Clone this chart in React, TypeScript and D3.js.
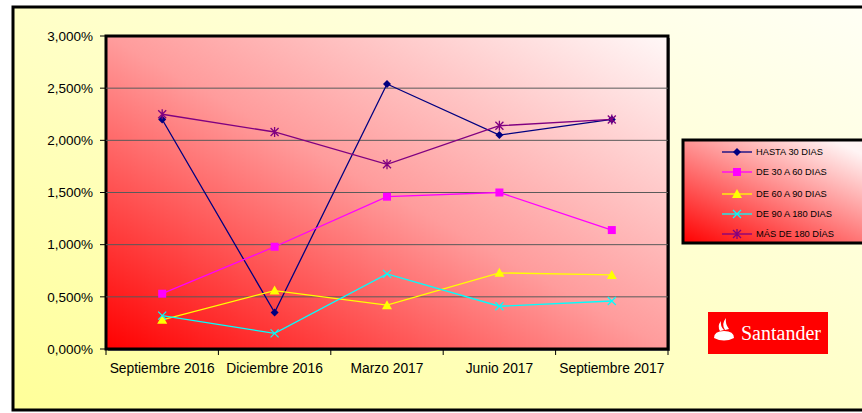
import React from "react";
import { scaleBand, scaleLinear, line } from "d3";

const categories = ["Septiembre 2016", "Diciembre 2016", "Marzo 2017", "Junio 2017", "Septiembre 2017"];
const hasta30 = [2.2, 0.35, 2.54, 2.05, 2.2];
const de30a60 = [0.53, 0.98, 1.46, 1.5, 1.14];
const de60a90 = [0.28, 0.56, 0.42, 0.73, 0.71];
const de90a180 = [0.32, 0.15, 0.72, 0.41, 0.46];
const mas180 = [2.25, 2.08, 1.77, 2.14, 2.2];
const yTicks = [0, 0.5, 1, 1.5, 2, 2.5, 3];

const seriesList = [
  { name: "HASTA 30 DIAS", values: hasta30, color: "#000080", marker: "diamond" },
  { name: "DE 30 A 60 DIAS", values: de30a60, color: "#FF00FF", marker: "square" },
  { name: "DE 60 A 90 DIAS", values: de60a90, color: "#FFFF00", marker: "triangle" },
  { name: "DE 90 A 180 DIAS", values: de90a180, color: "#00FFFF", marker: "x" },
  { name: "MÁS DE 180 DÍAS", values: mas180, color: "#800080", marker: "star" },
];

const font = "Arial, 'Liberation Sans', sans-serif";

// plot box
const plot = { left: 106, top: 36, right: 668, bottom: 349 };

const Marker = ({ type, x, y, color }: { type: string; x: number; y: number; color: string }) => {
  if (type === "diamond")
    return <path d={`M${x},${y - 4}L${x + 4},${y}L${x},${y + 4}L${x - 4},${y}Z`} fill={color} />;
  if (type === "square")
    return <rect x={x - 4} y={y - 4} width={8} height={8} fill={color} />;
  if (type === "triangle")
    return <path d={`M${x},${y - 5}L${x + 5},${y + 4}L${x - 5},${y + 4}Z`} fill={color} />;
  if (type === "x")
    return <path d={`M${x - 4},${y - 4}L${x + 4},${y + 4}M${x + 4},${y - 4}L${x - 4},${y + 4}`} stroke={color} strokeWidth={1.2} />;
  return (
    <path
      d={`M${x - 4},${y - 4}L${x + 4},${y + 4}M${x + 4},${y - 4}L${x - 4},${y + 4}M${x},${y - 5}L${x},${y + 5}`}
      stroke={color}
      strokeWidth={1.3}
    />
  );
};

export default function App() {
  const x = scaleBand().domain(categories).range([plot.left, plot.right]);
  const y = scaleLinear().domain([0, 3]).range([plot.bottom, plot.top]);
  const cx = (c: string) => (x(c) as number) + x.bandwidth() / 2;

  const lineGen = line<number>()
    .x((_, i) => cx(categories[i]))
    .y((d) => y(d));

  const legendRows = [152, 172, 194, 214, 234];

  return (
    <svg width={862} height={413} style={{ position: "absolute", left: 0, top: 0 }} fontFamily={font}>
      <defs>
        <linearGradient id="bgYellow" x1="0" y1="1" x2="1" y2="0">
          <stop offset="0" stopColor="#FFFF99" />
          <stop offset="1" stopColor="#FFFFF6" />
        </linearGradient>
        <linearGradient id="plotRed" x1="0" y1="1" x2="1" y2="0">
          <stop offset="0" stopColor="#FF0000" />
          <stop offset="0.5" stopColor="#FF9C9C" />
          <stop offset="1" stopColor="#FFF8F8" />
        </linearGradient>
        <linearGradient id="legRed" x1="0" y1="1" x2="0.8" y2="0">
          <stop offset="0" stopColor="#FF0000" />
          <stop offset="1" stopColor="#FFF4F4" />
        </linearGradient>
      </defs>

      {/* outer chart area */}
      <rect x={13} y={7} width={860} height={403} fill="url(#bgYellow)" stroke="#000" strokeWidth={3} />

      {/* plot area */}
      <rect x={plot.left + 2} y={plot.top + 2} width={plot.right - plot.left} height={plot.bottom - plot.top} fill="#777" />
      <rect x={plot.left} y={plot.top} width={plot.right - plot.left} height={plot.bottom - plot.top} fill="url(#plotRed)" stroke="#000" strokeWidth={3} />

      {/* gridlines */}
      {yTicks.slice(1, -1).map((t) => (
        <line key={t} x1={plot.left} x2={plot.right} y1={y(t)} y2={y(t)} stroke="#5a5a5a" strokeWidth={1} />
      ))}

      {/* y axis */}
      {yTicks.map((t) => (
        <g key={t}>
          <line x1={plot.left - 6} x2={plot.left} y1={y(t)} y2={y(t)} stroke="#000" />
          <text x={93} y={y(t)} dy="0.35em" textAnchor="end" fontSize={13.5} fill="#000">
            {t.toFixed(3).replace(".", ",")}%
          </text>
        </g>
      ))}

      {/* x axis */}
      {categories.map((c) => (
        <g key={c}>
          <line x1={x(c) as number} x2={x(c) as number} y1={plot.bottom} y2={plot.bottom + 6} stroke="#000" />
          <text x={cx(c)} y={373} textAnchor="middle" fontSize={13.8} fill="#000">
            {c}
          </text>
        </g>
      ))}
      <line x1={plot.right} x2={plot.right} y1={plot.bottom} y2={plot.bottom + 6} stroke="#000" />

      {/* series */}
      {seriesList.map((s) => (
        <g key={s.name}>
          <path d={lineGen(s.values) || ""} fill="none" stroke={s.color} strokeWidth={1.3} />
          {s.values.map((v, i) => (
            <Marker key={i} type={s.marker} x={cx(categories[i])} y={y(v)} color={s.color} />
          ))}
        </g>
      ))}

      {/* legend */}
      <rect x={683} y={140} width={185} height={103} fill="url(#legRed)" stroke="#000" strokeWidth={3} />
      {seriesList.map((s, i) => (
        <g key={s.name}>
          <line x1={722} x2={752} y1={legendRows[i]} y2={legendRows[i]} stroke={s.color} strokeWidth={1.3} />
          <Marker type={s.marker} x={737} y={legendRows[i]} color={s.color} />
          <text x={756} y={legendRows[i]} dy="0.35em" fontSize={9.3} fill="#000">
            {s.name}
          </text>
        </g>
      ))}

      {/* Santander logo */}
      <rect x={708} y={312} width={120} height={42} fill="#FF0000" />
      <path
        d="M714,338 Q714,331 724,331 Q734,331 734,338 Q724,343 714,338Z M720,331 Q717,326 721,321 Q720,326 724,330Z M725,330 Q721,324 726,318 Q725,324 729,329Z"
        fill="#fff"
      />
      <text x={741} y={340} fontFamily="'Liberation Serif', 'DejaVu Serif', serif" fontSize={20} fill="#fff">
        Santander
      </text>
    </svg>
  );
}
